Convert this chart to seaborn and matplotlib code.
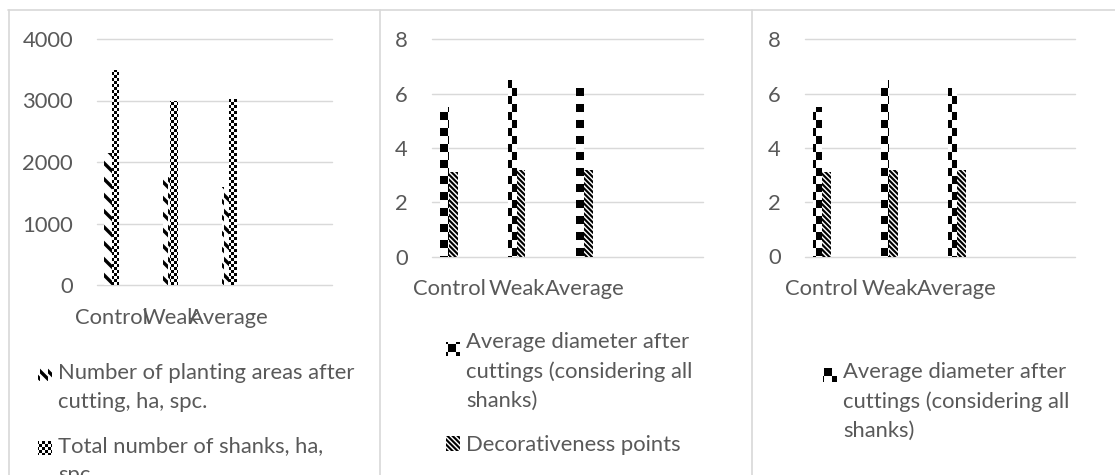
import numpy as np
import pandas as pd
import matplotlib
matplotlib.use("Agg")
import matplotlib.pyplot as plt
import matplotlib.hatch as mhatch
from matplotlib.path import Path
from matplotlib.legend_handler import HandlerPatch
from matplotlib.lines import Line2D
import seaborn as sns

# ---- data ----
categories = ["Control", "Weak", "Average"]
planting_areas = [2150, 1750, 1590]
total_shanks = [3500, 3000, 3020]
avg_diameter = [5.5, 6.5, 6.2]
decorativeness = [3.1, 3.2, 3.2]

label_planting = "Number of planting areas after\ncutting, ha, spc."
label_shanks = "Total number of shanks, ha,\nspc."
label_diameter = "Average diameter after\ncuttings (considering all\nshanks)"
label_decor = "Decorativeness points"

# ---- style ----
sns.set_style("white")
plt.rcParams["font.family"] = ["Lato", "DejaVu Sans"]
plt.rcParams["hatch.linewidth"] = 0.01
TEXT = "#595959"
GRID = "#d9d9d9"
FS = 16.5


# ---- filled fill-patterns (checkerboards, stripes, dashes) ----
class _FilledPattern(mhatch.HatchPatternBase):
    key = ""

    def __init__(self, hatch, density):
        self.polys = self.polygons() if (hatch and self.key in hatch) else []
        self.num_vertices = 5 * len(self.polys)
        self.filled = True

    def polygons(self):
        return []

    def set_vertices_and_codes(self, vertices, codes):
        for i, poly in enumerate(self.polys):
            k = 5 * i
            vertices[k:k + 4] = poly
            vertices[k + 4] = poly[0]
            codes[k] = Path.MOVETO
            codes[k + 1:k + 4] = Path.LINETO
            codes[k + 4] = Path.CLOSEPOLY


def _checker(n):
    s = 1.0 / n
    return [[(i * s, j * s), ((i + 1) * s, j * s), ((i + 1) * s, (j + 1) * s), (i * s, (j + 1) * s)]
            for i in range(n) for j in range(n) if (i + j) % 2 == 0]


class SmallChecker(_FilledPattern):
    key = "c"

    def polygons(self):
        return _checker(32)


class LargeChecker(_FilledPattern):
    key = "C"

    def polygons(self):
        return _checker(12)


class WideDownDiagonal(_FilledPattern):
    key = "w"

    def polygons(self):
        k_lines = 19
        p = 1.0 / k_lines
        w = 0.6 * p
        out = []
        for k in range(-2, 2 * k_lines + 2):
            c = k * p
            out.append([(-0.5, c + 0.5), (1.5, c - 1.5), (1.5, c + w - 1.5), (-0.5, c + w + 0.5)])
        return out


class DashedDownDiagonal(_FilledPattern):
    key = "d"

    def polygons(self):
        nx, ny = 12, 6
        sx, sy = 1.0 / nx, 1.0 / ny
        cell = [(0.0, 0.66), (1.0, 0.16), (1.0, 0.46), (0.0, 0.96)]
        out = []
        for i in range(nx):
            for j in range(ny):
                out.append([(i * sx + u * sx, j * sy + v * sy) for u, v in cell])
        return out


mhatch._hatch_types.extend([SmallChecker, LargeChecker, WideDownDiagonal, DashedDownDiagonal])
mhatch._validate_hatch_pattern = lambda hatch: None


class FirstLineHandle(HandlerPatch):
    """Legend key lifted so it sits beside the first line of a wrapped label."""

    def __init__(self, lift_pt, **kw):
        super().__init__(**kw)
        self.lift_pt = lift_pt

    def create_artists(self, legend, orig_handle, xdescent, ydescent,
                       width, height, fontsize, trans):
        return super().create_artists(legend, orig_handle, xdescent,
                                      ydescent - self.lift_pt, width, height,
                                      fontsize, trans)


# ---- figure ----
DPI = 96
W, H = 1115, 475
fig = plt.figure(figsize=(W / DPI, H / DPI), dpi=DPI)


def px_rect(x0, x1, y_top, y_bot):
    return [x0 / W, 1 - y_bot / H, (x1 - x0) / W, (y_bot - y_top) / H]


def draw_panel(ax, values, labels, hatches, ymax, ystep):
    df = pd.DataFrame({
        "group": categories * len(values),
        "value": [v for vals in values for v in vals],
        "series": [lab for lab, vals in zip(labels, values) for _ in vals],
    })
    sns.barplot(data=df, x="group", y="value", hue="series", order=categories,
                hue_order=labels, width=0.26, gap=0, dodge=True, errorbar=None,
                legend=False, palette=["white"] * len(labels), saturation=1, ax=ax)
    for cont, h in zip(ax.containers, hatches):
        for p in cont.patches:
            p.set_facecolor("white")
            p.set_edgecolor("black")
            p.set_linewidth(0)
            p.set_hatch(h)
    ax.set_xlim(-0.25, 3.75)
    ax.set_ylim(0, ymax)
    ax.set_yticks(np.arange(0, ymax + 1, ystep))
    ax.set_xlabel("")
    ax.set_ylabel("")
    for s in ax.spines.values():
        s.set_visible(False)
    ax.set_axisbelow(True)
    ax.yaxis.grid(True, color=GRID, linewidth=1.1)
    for gl in ax.get_ygridlines():
        gl.set_clip_on(False)
    ax.tick_params(axis="y", length=0, pad=18, labelsize=FS, labelcolor=TEXT)
    ax.tick_params(axis="x", length=0, pad=17, labelsize=FS, labelcolor=TEXT)
    ax.patch.set_alpha(0)


def add_legend(ax, n_entries, labels, x_px, top_px, lifts):
    handles = [ax.containers[i].patches[0] for i in range(n_entries)]
    hmap = {h: FirstLineHandle(lift) for h, lift in zip(handles, lifts)}
    leg = ax.legend(handles, labels[:n_entries], loc="upper left",
                    bbox_to_anchor=(x_px / W, 1 - top_px / H),
                    bbox_transform=fig.transFigure, frameon=False,
                    fontsize=FS, labelcolor=TEXT, borderpad=0, borderaxespad=0,
                    handlelength=0.62, handleheight=0.62, handletextpad=0.3,
                    labelspacing=1.12, handler_map=hmap)
    for t in leg.get_texts():
        t.set_linespacing(1.55)
    return leg


ax1 = fig.add_axes(px_rect(97, 332, 39, 285))
ax2 = fig.add_axes(px_rect(432, 703, 39.3, 256.7))
ax3 = fig.add_axes(px_rect(805, 1075, 39.3, 256.5))

draw_panel(ax1, [planting_areas, total_shanks], [label_planting, label_shanks],
           ["d", "c"], 4000, 1000)
draw_panel(ax2, [avg_diameter, decorativeness], [label_diameter, label_decor],
           ["C", "w"], 8, 2)
draw_panel(ax3, [avg_diameter, decorativeness], [label_diameter, label_decor],
           ["C", "w"], 8, 2)

add_legend(ax1, 2, [label_planting, label_shanks], 38, 363, [10, 10])
add_legend(ax2, 2, [label_diameter, label_decor], 446, 332, [17, 0])
add_legend(ax3, 1, [label_diameter], 823, 362, [20])

# panel frames
for x in (8.5, 380, 752):
    fig.add_artist(Line2D([x / W, x / W], [0, 1 - 10 / H], transform=fig.transFigure,
                          color=GRID, linewidth=1.3))
fig.add_artist(Line2D([8 / W, 1], [1 - 10 / H, 1 - 10 / H], transform=fig.transFigure,
                      color=GRID, linewidth=1.3))

fig.savefig("out.png", dpi=DPI, facecolor="white")
